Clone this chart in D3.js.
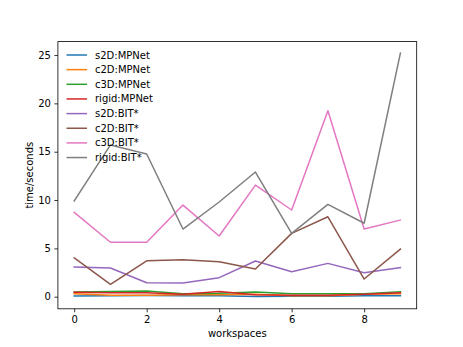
<!DOCTYPE html>
<html><head><meta charset="utf-8">
<script src="https://cdn.jsdelivr.net/npm/d3@7"></script>
<style>body{margin:0;background:#fff}svg{display:block}text{font-family:"DejaVu Sans",sans-serif}</style>
</head><body>
<script>
const workspaces = [0,1,2,3,4,5,6,7,8,9];
const seriesNames = ["s2D:MPNet","c2D:MPNet","c3D:MPNet","rigid:MPNet","s2D:BIT*","c2D:BIT*","c3D:BIT*","rigid:BIT*"];
const s2D_MPNet = [0.08,0.1,0.12,0.1,0.1,0.02,0.05,0.05,0.1,0.1];
const c2D_MPNet = [0.3,0.15,0.15,0.2,0.2,0.25,0.1,0.1,0.25,0.3];
const c3D_MPNet = [0.5,0.55,0.6,0.3,0.35,0.5,0.3,0.3,0.3,0.5];
const rigid_MPNet = [0.45,0.4,0.4,0.25,0.55,0.2,0.15,0.15,0.25,0.4];
const s2D_BIT = [3.07,2.97,1.45,1.42,1.97,3.69,2.59,3.45,2.48,3.0];
const c2D_BIT = [4.03,1.28,3.72,3.83,3.62,2.86,6.55,8.27,1.83,4.93];
const c3D_BIT = [8.73,5.63,5.63,9.48,6.28,11.55,8.97,19.24,7.0,7.93];
const rigid_BIT = [9.9,15.7,14.76,7.0,9.8,12.9,6.55,9.55,7.6,25.2];
const seriesValues = [s2D_MPNet,c2D_MPNet,c3D_MPNet,rigid_MPNet,s2D_BIT,c2D_BIT,c3D_BIT,rigid_BIT];
const colors = ["#1f77b4","#ff7f0e","#2ca02c","#d62728","#9467bd","#8c564b","#e377c2","#7f7f7f"];
const xTicks = [0,2,4,6,8];
const yTicks = [0,5,10,15,20,25];

const W=463,H=347;
const L=57.9,R=416.7,T=41.6,B=308.8;
const svg=d3.select("body").append("svg").attr("width",W).attr("height",H);
const x=d3.scaleLinear().domain([-0.45,9.45]).range([L,R]);
const y=d3.scaleLinear().domain([-1.25,26.39]).range([B,T]);

const line=d3.line().x((d,i)=>x(workspaces[i])).y(d=>y(d));
seriesValues.forEach((vals,k)=>{
  svg.append("path").datum(vals).attr("d",line).attr("fill","none")
    .attr("stroke",colors[k]).attr("stroke-width",1.5).attr("stroke-linejoin","round").attr("stroke-linecap","square");
});

const xa=svg.append("g").attr("transform",`translate(0,${B})`).call(d3.axisBottom(x).tickValues(xTicks).tickSize(3.5).tickPadding(3.5).tickFormat(d3.format("d")));
const ya=svg.append("g").attr("transform",`translate(${L},0)`).call(d3.axisLeft(y).tickValues(yTicks).tickSize(3.5).tickPadding(3.5).tickFormat(d3.format("d")));
[xa,ya].forEach(a=>{a.select(".domain").remove();a.selectAll("text").attr("font-size",10).attr("fill","#000").attr("font-family","DejaVu Sans");a.selectAll("line").attr("stroke","#000").attr("stroke-width",0.8);});

svg.append("rect").attr("x",L).attr("y",T).attr("width",R-L).attr("height",B-T).attr("fill","none").attr("stroke","#000").attr("stroke-width",0.8);

svg.append("text").attr("x",(L+R)/2).attr("y",337).attr("text-anchor","middle").attr("font-size",10).text("workspaces");
svg.append("text").attr("transform",`translate(33,${(T+B)/2}) rotate(-90)`).attr("text-anchor","middle").attr("font-size",10).text("time/seconds");

const lg=svg.append("g");
seriesNames.forEach((n,k)=>{
  const yy=55+k*14.65;
  lg.append("line").attr("x1",66.5).attr("x2",87).attr("y1",yy).attr("y2",yy).attr("stroke",colors[k]).attr("stroke-width",1.5);
  lg.append("text").attr("x",95).attr("y",yy).attr("dy","0.35em").attr("font-size",10).text(n);
});
</script>
</body></html>
